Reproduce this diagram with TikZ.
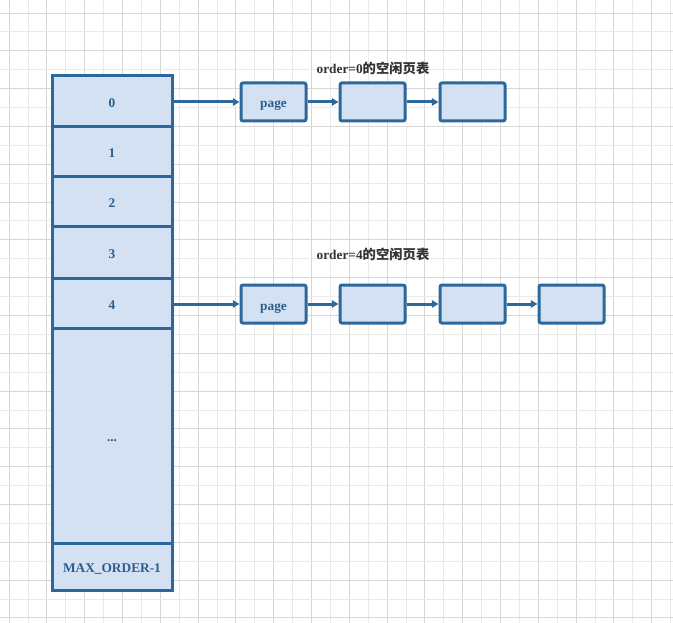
\documentclass[tikz,border=0pt]{standalone}
\usepackage{fontspec}
\setmainfont{Liberation Serif}
\newfontfamily\cjk{Noto Sans CJK SC}
\usetikzlibrary{arrows.meta}
\definecolor{cellfill}{RGB}{212,225,242}
\definecolor{cellline}{RGB}{44,104,156}
\definecolor{celltext}{RGB}{43,94,140}
\definecolor{titletext}{RGB}{51,51,51}
\definecolor{gridminor}{RGB}{234,234,234}
\definecolor{gridmajor}{RGB}{214,214,214}
\begin{document}
\begin{tikzpicture}[x=0.75pt,y=-0.75pt,
  cell/.style={draw=cellline,fill=cellfill,line width=2.25pt,minimum width=90pt,inner sep=0pt,
    text=celltext,font=\fontsize{10pt}{12pt}\selectfont\bfseries,text height=9pt,text depth=0pt},
  pagebox/.style={draw=cellline,fill=cellfill,line width=2.25pt,rounded corners=1.5pt,
    minimum width=48.75pt,minimum height=28.5pt,inner sep=0pt,
    text=celltext,font=\fontsize{10pt}{12pt}\selectfont\bfseries,text height=9pt,text depth=0pt},
  link/.style={draw=cellline,line width=2.25pt,-{Triangle[length=5pt,width=5.5pt]}},
  title/.style={text=titletext,font=\fontsize{10pt}{12pt}\selectfont\bfseries,inner sep=0pt}]
\useasboundingbox (0,0) rectangle (673,623);
\fill[white] (0,0) rectangle (673,623);
% grid
\foreach \i in {0,...,35}{
  \pgfmathsetmacro{\xx}{9+18.9*\i}
  \pgfmathtruncatemacro{\ev}{mod(\i,2)}
  \ifnum\ev=0 \draw[gridmajor,line width=0.6pt] (\xx,0) -- (\xx,623);
  \else \draw[gridminor,line width=0.6pt] (\xx,0) -- (\xx,623); \fi
}
\foreach \j in {0,...,32}{
  \pgfmathsetmacro{\yy}{13+18.9*\j}
  \pgfmathtruncatemacro{\ev}{mod(\j,2)}
  \ifnum\ev=0 \draw[gridmajor,line width=0.6pt] (0,\yy) -- (673,\yy);
  \else \draw[gridminor,line width=0.6pt] (0,\yy) -- (673,\yy); \fi
}
% order array
\node[cell,minimum height=38.25pt] (c0) at (112,101.5) {0};
\node[cell,minimum height=37.5pt] (c1) at (112,152) {1};
\node[cell,minimum height=37.5pt] (c2) at (112,202) {2};
\node[cell,minimum height=38.25pt] (c3) at (112,252.5) {3};
\node[cell,minimum height=37.5pt] (c4) at (112,303) {4};
\node[cell,minimum height=161.25pt] (cdots) at (112,435.5) {...};
\node[cell,minimum height=35.25pt] (cmax) at (112,566.5) {MAX\_ORDER-1};
% order 0 list
\node[title] (t0) at (373,68) {order=0{\cjk 的空闲页表}};
\node[pagebox] (p00) at (273.5,102) {page};
\node[pagebox] (p01) at (372.5,102) {};
\node[pagebox] (p02) at (472.5,102) {};
\draw[link] (c0.east |- p00) -- (p00.west);
\draw[link] (p00) -- (p01);
\draw[link] (p01) -- (p02);
% order 4 list
\node[title] (t4) at (373,254) {order=4{\cjk 的空闲页表}};
\node[pagebox] (p40) at (273.5,304) {page};
\node[pagebox] (p41) at (372.5,304) {};
\node[pagebox] (p42) at (472.5,304) {};
\node[pagebox] (p43) at (571.5,304) {};
\draw[link] (c4.east |- p40) -- (p40.west);
\draw[link] (p40) -- (p41);
\draw[link] (p41) -- (p42);
\draw[link] (p42) -- (p43);
\end{tikzpicture}
\end{document}
